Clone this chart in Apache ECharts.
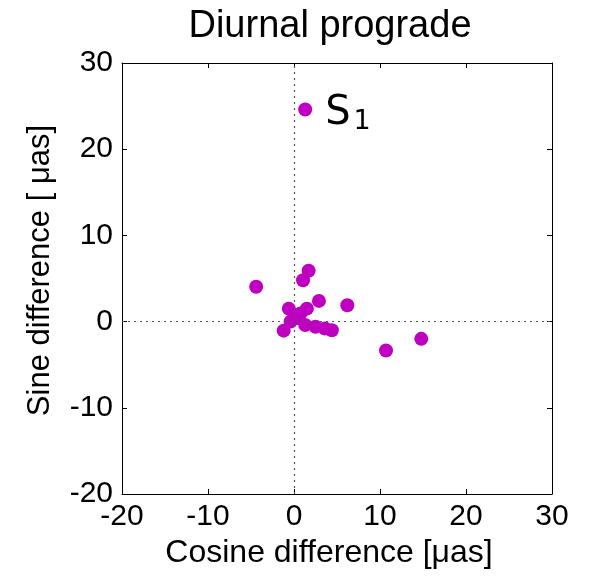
<!DOCTYPE html>
<html><head><meta charset="utf-8">
<script src="https://cdn.jsdelivr.net/npm/echarts@6/dist/echarts.min.js"></script>
<style>html,body{margin:0;padding:0;background:#fff}#c{width:590px;height:578px}</style>
</head><body><div id="c"></div>
<script>
var xTicks = [-20, -10, 0, 10, 20, 30];
var yTicks = [-20, -10, 0, 10, 20, 30];
var cosDiff = [1.3, 1.7, 1.05, -4.4, 2.9, 6.2, -0.6, 1.5, 0.35, 0.75, -0.4, -1.2, 1.3, 2.5, 3.6, 4.4, 10.7, 14.8];
var sinDiff = [24.6, 5.9, 4.8, 4.05, 2.4, 1.9, 1.5, 1.5, 0.4, 0.95, 0.0, -1.05, -0.4, -0.6, -0.8, -1.0, -3.35, -2.0];
var pointLabels = ['S1', '', '', '', '', '', '', '', '', '', '', '', '', '', '', '', '', ''];

var chart = echarts.init(document.getElementById('c'));
var data = cosDiff.map(function (x, i) {
  var d = { value: [x, sinDiff[i]] };
  if (pointLabels[i]) {
    d.label = { show: true, position: 'right', distance: 13, formatter: '{a|S}{b|1}',
      rich: { a: { fontSize: 40, fontFamily: 'DejaVu Sans', color: '#000', padding: [8, 0, 0, 0] },
              b: { fontSize: 27, fontFamily: 'DejaVu Sans', color: '#000', padding: [24, 0, 0, 3] } } };
  }
  return d;
});
var axCommon = { min: -20, max: 30, interval: 10, splitLine: { show: false } };
var fam = 'Liberation Sans';
chart.setOption({
  animation: false,
  title: { text: 'Diurnal prograde', left: 325, textAlign: 'center', top: 3,
    textStyle: { fontFamily: fam, fontSize: 38, fontWeight: 'normal', color: '#000' } },
  grid: { left: 122, right: 38, top: 63, bottom: 84 },
  xAxis: [
    Object.assign({}, axCommon, { type: 'value', position: 'bottom',
      name: 'Cosine difference [μas]', nameLocation: 'middle', nameGap: 43,
      nameTextStyle: { fontFamily: fam, fontSize: 32, color: '#000', padding: [0, 16, 0, 0] },
      axisLine: { onZero: false, lineStyle: { color: '#000', width: 1 } },
      axisTick: { inside: true, length: 5, lineStyle: { color: '#000' } },
      axisLabel: { fontFamily: fam, fontSize: 30, color: '#000', margin: 8,
        formatter: function (v) { return xTicks.indexOf(v) >= 0 ? String(v) : ''; } } }),
    Object.assign({}, axCommon, { type: 'value', position: 'top',
      axisLine: { onZero: false, lineStyle: { color: '#000', width: 1 } },
      axisTick: { inside: true, length: 5, lineStyle: { color: '#000' } },
      axisLabel: { show: false } })
  ],
  yAxis: [
    Object.assign({}, axCommon, { type: 'value', position: 'left',
      name: 'Sine difference [ μas]', nameLocation: 'middle', nameGap: 66,
      nameTextStyle: { fontFamily: fam, fontSize: 31, color: '#000', padding: [0, 0, 0, 16] },
      axisLine: { onZero: false, lineStyle: { color: '#000', width: 1 } },
      axisTick: { inside: true, length: 5, lineStyle: { color: '#000' } },
      axisLabel: { fontFamily: fam, fontSize: 30, color: '#000', margin: 9,
        formatter: function (v) { return yTicks.indexOf(v) >= 0 ? String(v) : ''; } } }),
    Object.assign({}, axCommon, { type: 'value', position: 'right',
      axisLine: { onZero: false, lineStyle: { color: '#000', width: 1 } },
      axisTick: { inside: true, length: 5, lineStyle: { color: '#000' } },
      axisLabel: { show: false } })
  ],
  series: [{
    type: 'scatter', xAxisIndex: 0, yAxisIndex: 0, symbolSize: 14,
    itemStyle: { color: '#C000C0', opacity: 1 },
    data: data,
    markLine: { silent: true, symbol: 'none', label: { show: false },
      lineStyle: { type: [2, 4], color: '#555', width: 1.2 },
      data: [{ xAxis: 0 }, { yAxis: 0 }] },
    z: 3
  }]
});
</script></body></html>
